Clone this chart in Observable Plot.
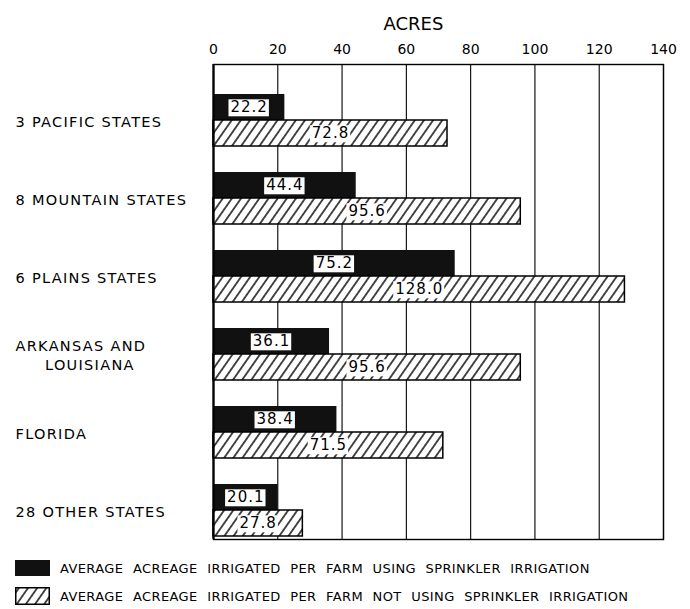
<!DOCTYPE html>
<html><head><meta charset="utf-8">
<script src="https://cdn.jsdelivr.net/npm/d3@7"></script>
<script src="https://cdn.jsdelivr.net/npm/@observablehq/plot@0.6"></script>
<style>
body{margin:0;background:#fff;font-family:"DejaVu Sans",sans-serif;color:#000;}
#chart{width:690px;}
#legend{padding-left:15px;margin-top:9px;}
.row{display:flex;align-items:center;height:28px;}
.row svg{display:block;margin-right:10px;}
.row span{font-size:13px;letter-spacing:0.4px;word-spacing:5px;white-space:nowrap;}
</style></head><body>
<div id="chart"></div>
<div id="legend"></div>
<script>
const regions = ["3 PACIFIC STATES", "8 MOUNTAIN STATES", "6 PLAINS STATES", "ARKANSAS AND\n\u00a0\u00a0\u00a0\u00a0\u00a0LOUISIANA", "FLORIDA", "28 OTHER STATES"];
const withSprinkler = [22.2, 44.4, 75.2, 36.1, 38.4, 20.1];
const withoutSprinkler = [72.8, 95.6, 128.0, 95.6, 71.5, 27.8];
const xTicks = [0, 20, 40, 60, 80, 100, 120, 140];
const axisTitle = "ACRES";
const seriesNames = [
  "AVERAGE ACREAGE IRRIGATED PER FARM USING SPRINKLER IRRIGATION",
  "AVERAGE ACREAGE IRRIGATED PER FARM NOT USING SPRINKLER IRRIGATION"
];

const rows = regions.flatMap((r, i) => [
  {region: r, series: "with", value: withSprinkler[i]},
  {region: r, series: "without", value: withoutSprinkler[i]}
]);
const key = d => d.region + "|" + d.series;
const yDomain = regions.flatMap(r => [r + "|gap", r + "|with", r + "|without"]);

const plot = Plot.plot({
  width: 690, height: 545,
  marginTop: 64, marginLeft: 213, marginRight: 27, marginBottom: 6,
  style: {fontFamily: "DejaVu Sans", fontSize: "14px", color: "black", background: "white"},
  x: {domain: [0, 140], ticks: xTicks, axis: "top", tickSize: 0, tickPadding: 11, label: null},
  y: {domain: yDomain, axis: null, padding: 0},
  marks: [
    Plot.ruleX(xTicks, {stroke: "black", strokeWidth: 1.1}),
    Plot.barX(rows.filter(d => d.series === "with"), {x: "value", y: key, fill: "#111"}),
    Plot.barX(rows.filter(d => d.series === "without"), {x: "value", y: key, fill: "url(#hatch)", stroke: "black", strokeWidth: 1.5}),
    Plot.frame({stroke: "black", strokeWidth: 1.4}),
    Plot.ruleX([0], {stroke: "black", strokeWidth: 2.2}),
    Plot.text(rows, {x: d => d.value / 2, y: key, text: d => d.value.toFixed(1), ariaDescription: "value-labels", fontSize: 15, fill: "black"}),
    Plot.text(regions, {y: r => r + "|with", text: d => d, frameAnchor: "left", textAnchor: "start", dx: -198, dy: 13, lineHeight: 1.3, fontSize: 14.5, ariaDescription: "region-labels"}),
    Plot.text([axisTitle], {text: d => d, frameAnchor: "top-left", dx: 170, dy: -47, fontSize: 18})
  ]
});
document.getElementById("chart").append(plot);

const svg = d3.select(plot);
const defs = svg.insert("defs", ":first-child");
function addHatch(defsSel, id) {
  const p = defsSel.append("pattern").attr("id", id).attr("patternUnits", "userSpaceOnUse")
    .attr("width", 7.5).attr("height", 7.5).attr("patternTransform", "rotate(35)");
  p.append("rect").attr("width", 7.5).attr("height", 7.5).attr("fill", "white");
  p.append("line").attr("x1", 3.75).attr("y1", -1).attr("x2", 3.75).attr("y2", 8.5)
    .attr("stroke", "black").attr("stroke-width", 1.4);
}
addHatch(defs, "hatch");

svg.selectAll('g[aria-description="value-labels"] text').attr("letter-spacing", "1px").each(function() {
  const b = this.getBBox();
  d3.select(this.parentNode).insert("rect", () => this)
    .attr("x", b.x - 2).attr("y", b.y + 1).attr("width", b.width + 3).attr("height", b.height - 1)
    .attr("fill", "white").attr("transform", this.getAttribute("transform"));
});
svg.selectAll('g[aria-description="region-labels"] text').attr("letter-spacing", "1.3px");

const legend = d3.select("#legend");
seriesNames.forEach((name, i) => {
  const row = legend.append("div").attr("class", "row");
  const s = row.append("svg").attr("width", 35).attr("height", 18);
  if (i === 0) {
    s.append("rect").attr("y", 1).attr("width", 35).attr("height", 16).attr("fill", "#111");
  } else {
    addHatch(s.append("defs"), "hatch-legend");
    s.append("rect").attr("x", 0.75).attr("y", 0.75).attr("width", 33.5).attr("height", 16.5)
      .attr("fill", "url(#hatch-legend)").attr("stroke", "black").attr("stroke-width", 1.5);
  }
  row.append("span").text(name);
});
</script>
</body></html>
